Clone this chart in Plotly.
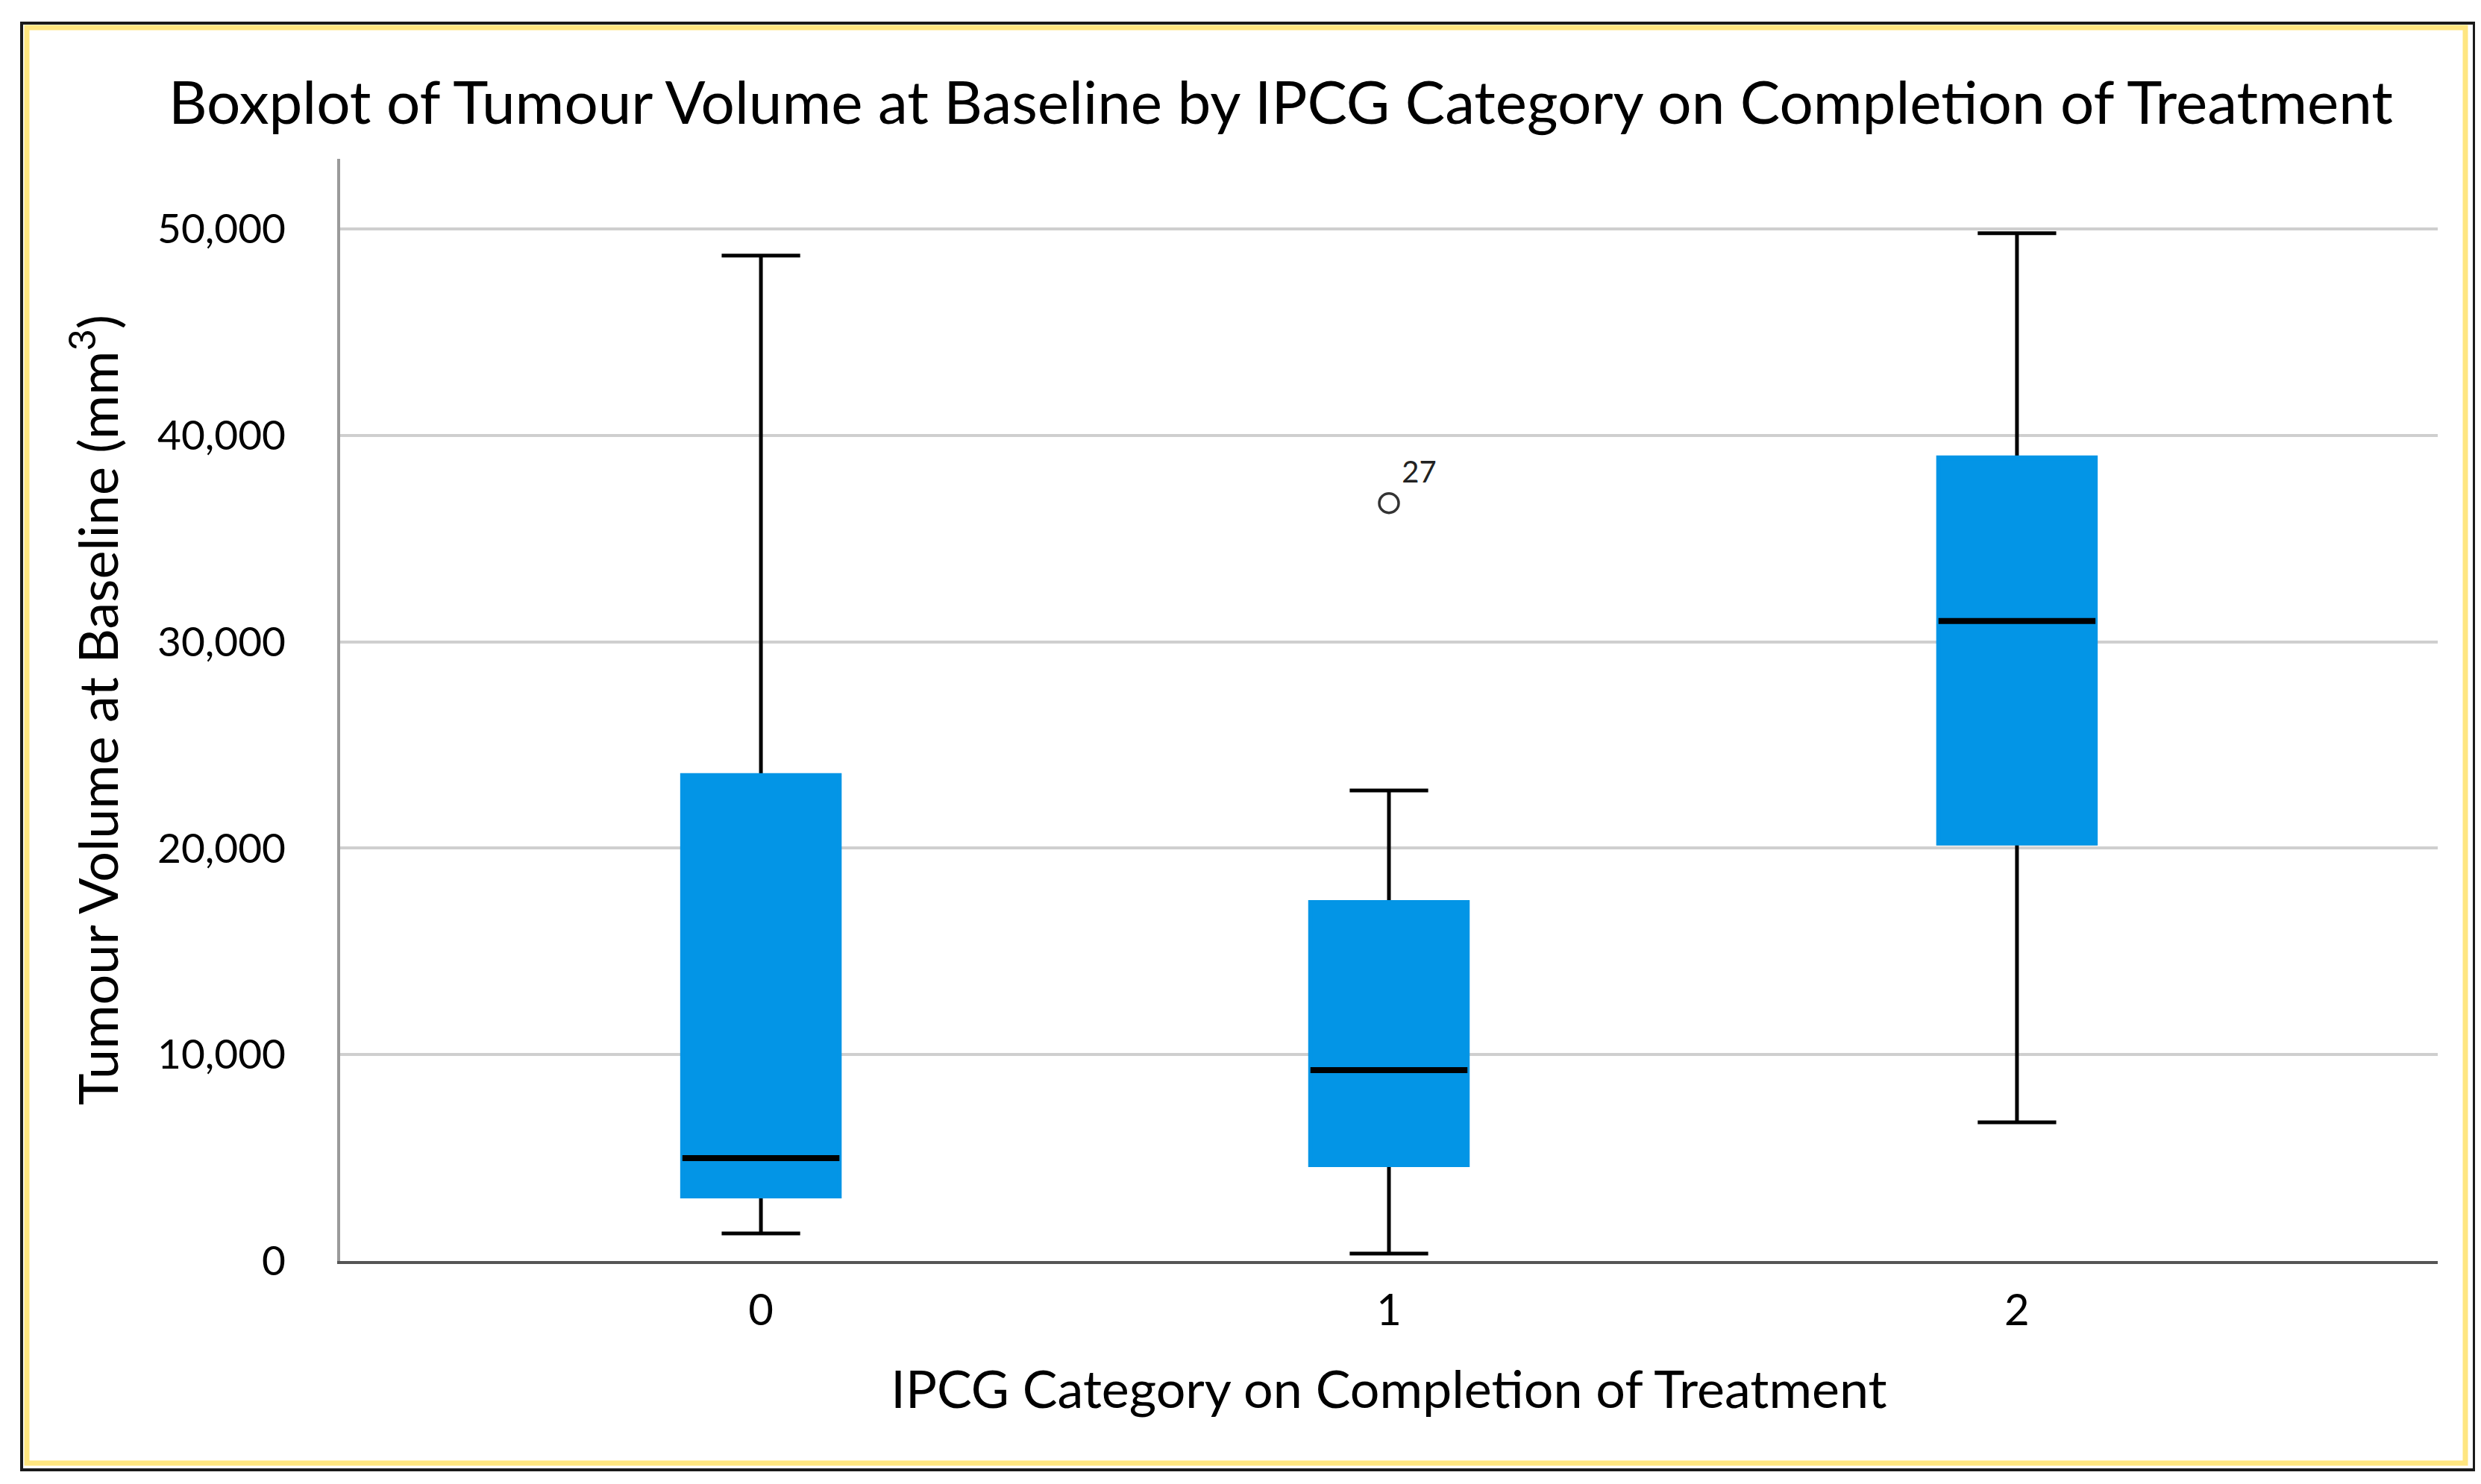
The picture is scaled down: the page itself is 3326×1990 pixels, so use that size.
import plotly.graph_objects as go

# ---- data ----
categories = ["0", "1", "2"]
lower_whisker = [1340, 360, 6720]
q1 = [3140, 4660, 20240]
median = [4990, 9250, 31010]
q3 = [23530, 17380, 38920]
upper_whisker = [48710, 22800, 49800]

outlier_cat = ["1"]
outlier_val = [36720]
outlier_label = ["27"]

y_ticks = [0, 10000, 20000, 30000, 40000, 50000]
y_ticktext = ["0", "10,000", "20,000", "30,000", "40,000", "50,000"]

title_text = "Boxplot of Tumour Volume at Baseline by IPCG Category on Completion of Treatment"
x_title = "IPCG Category on Completion of Treatment"
y_title = "Tumour Volume at Baseline (mm<sup>3</sup>)"

FONT = "Lato"
BLUE = "#0395E6"
W, H = 3326, 1990
L, R, T, B = 448, 66, 205, 307

fig = go.Figure()

# main box: whiskers + caps in black
fig.add_trace(go.Box(
    x=categories, q1=q1, median=median, q3=q3,
    lowerfence=lower_whisker, upperfence=upper_whisker,
    width=0.25, whiskerwidth=0.5,
    line=dict(color="black", width=5), fillcolor=BLUE,
    boxpoints=False, hoverinfo="skip", showlegend=False))

# blue cover for the box body (no dark outline in the reference)
fig.add_trace(go.Box(
    x=categories, q1=q1, median=q3, q3=q3,
    lowerfence=q1, upperfence=q3,
    width=0.25, whiskerwidth=1,
    line=dict(color=BLUE, width=6), fillcolor=BLUE,
    boxpoints=False, hoverinfo="skip", showlegend=False))

# median line in black
fig.add_trace(go.Box(
    x=categories, q1=median, median=median, q3=median,
    lowerfence=median, upperfence=median,
    width=0.25, whiskerwidth=1,
    line=dict(color="black", width=8), fillcolor="black",
    boxpoints=False, hoverinfo="skip", showlegend=False))

# outlier
fig.add_trace(go.Scatter(
    x=outlier_cat, y=outlier_val, mode="markers+text",
    text=outlier_label, textposition="top right",
    textfont=dict(family=FONT, size=40, color="#222"),
    marker=dict(symbol="circle-open", size=26, color="#333",
                line=dict(width=3.5, color="#333")),
    hoverinfo="skip", showlegend=False))

fig.update_layout(
    width=W, height=H,
    margin=dict(l=L, r=R, t=T, b=B, autoexpand=False),
    paper_bgcolor="white", plot_bgcolor="white",
    boxmode="overlay",
    font=dict(family=FONT, color="black"),
    title=dict(text=title_text, font=dict(family=FONT, size=80, color="black"),
               x=1709 / W, xref="container", xanchor="center",
               y=1 - 130 / H, yref="container", yanchor="middle"),
    showlegend=False,
)

fig.update_xaxes(
    type="category", categoryorder="array", categoryarray=categories,
    range=[-0.67, 2.67],
    showline=True, linecolor="#555555", linewidth=4,
    showgrid=False, zeroline=False,
    ticks="outside", ticklen=12, tickcolor="rgba(0,0,0,0)",
    tickfont=dict(family=FONT, size=58, color="black"),
    title=dict(text=x_title, font=dict(family=FONT, size=70, color="black"), standoff=52),
    automargin=False,
)

fig.update_yaxes(
    range=[0, 53400],
    tickvals=y_ticks, ticktext=y_ticktext,
    showline=True, linecolor="#9a9a9a", linewidth=4,
    showgrid=True, gridcolor="#cfcfcf", gridwidth=4,
    zeroline=False,
    ticks="outside", ticklen=58, tickcolor="rgba(0,0,0,0)",
    tickfont=dict(family=FONT, size=55, color="black"),
    title=dict(text=y_title, font=dict(family=FONT, size=72, color="black"), standoff=30),
    automargin=False,
)

# outer frame (black line with yellow inner line)
pw = W - L - R
ph = H - T - B
def px_to_paper_x(px):
    return (px - L) / pw
def px_to_paper_y(py):
    return (H - B - py) / ph

fig.add_shape(type="rect", xref="paper", yref="paper",
              x0=px_to_paper_x(21), x1=px_to_paper_x(3309),
              y0=px_to_paper_y(1963), y1=px_to_paper_y(23),
              line=dict(color="#1a1a1a", width=4), layer="below")
fig.add_shape(type="rect", xref="paper", yref="paper",
              x0=px_to_paper_x(28), x1=px_to_paper_x(3297),
              y0=px_to_paper_y(1954), y1=px_to_paper_y(29),
              line=dict(color="#FFE680", width=7), layer="below")

fig.write_html("out.html")
